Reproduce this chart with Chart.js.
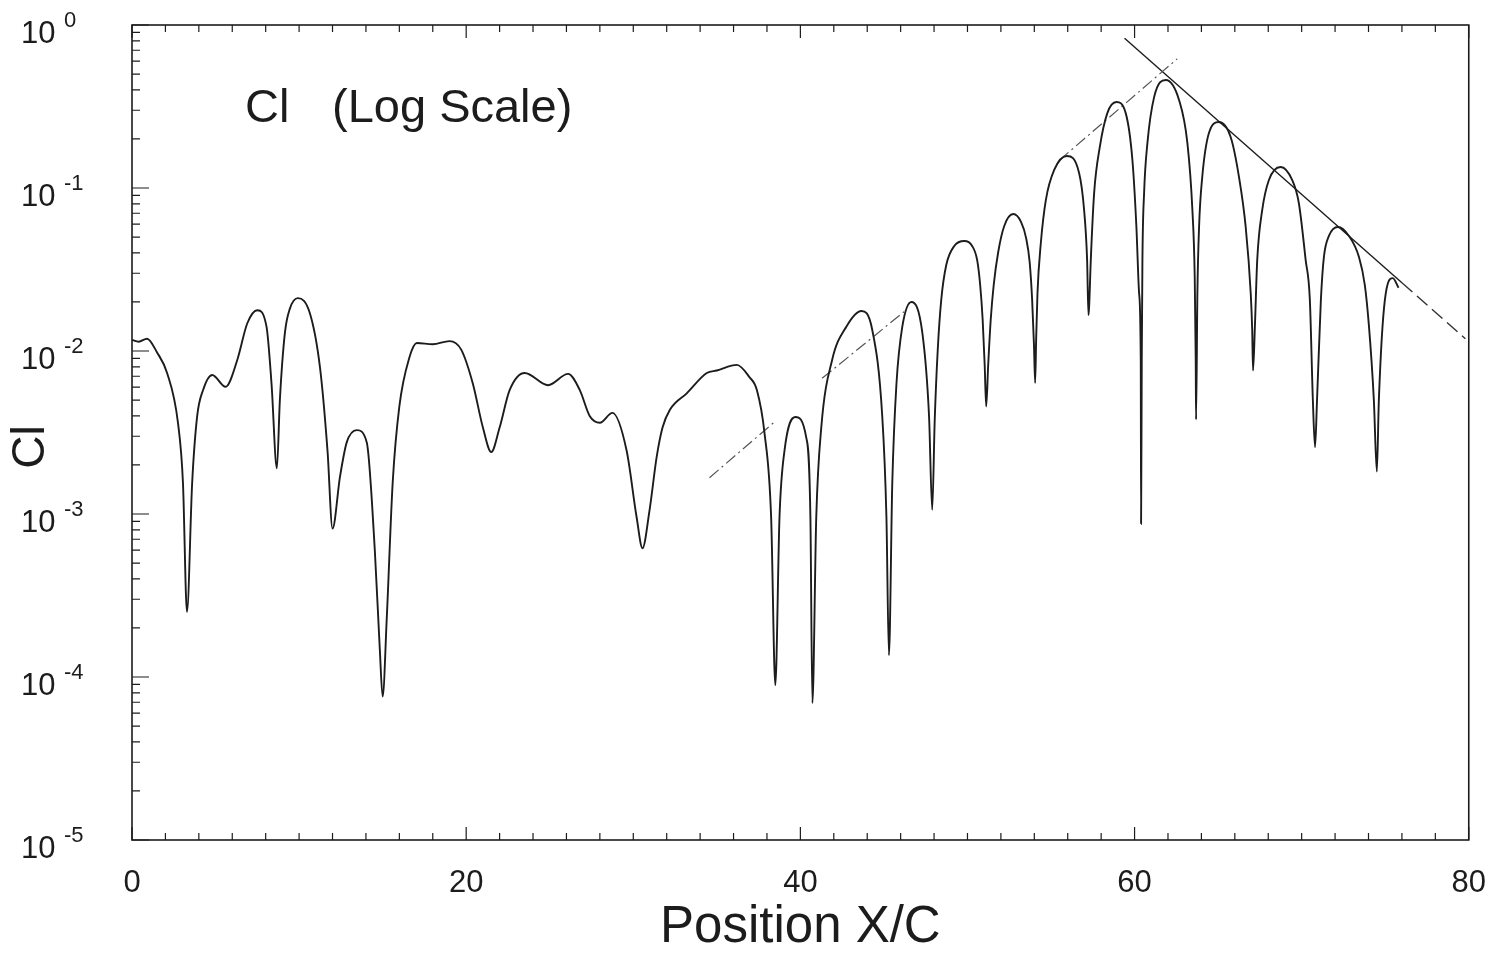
<!DOCTYPE html>
<html lang="en">
<head>
  <meta charset="UTF-8">
  <title>Cl (Log Scale) vs Position X/C</title>
  <script src="https://cdn.jsdelivr.net/npm/chart.js"></script>
  <style>
    body { margin: 0; background: #fff; }
    canvas { display: block; }
  </style>
</head>
<body>
  <canvas id="clChart" width="1511" height="956"></canvas>

  <script>
    // Cl along the chord
    const posX = [0, 0.4, 0.9, 1.5, 2.1, 2.75, 3.05, 3.29, 3.6, 3.9, 4.25, 4.8, 5.6, 6.3, 6.9, 7.5,
      8.05, 8.35, 8.67, 8.85, 9.15, 9.45, 9.93, 10.65, 11.25, 11.7, 12.0, 12.45, 12.85, 13.45, 14.05,
      14.53, 14.83, 15.0, 15.25, 15.6, 16.0, 16.6, 17.05, 18.0, 19.0, 19.7, 20.4, 21.0, 21.5, 22.0,
      22.6, 23.5, 24.9, 26.1, 26.8, 27.4, 28.0, 28.75, 29.6, 30.2, 30.55, 30.97, 31.4, 31.75, 32.2,
      33.2, 34.4, 35.0, 36.2, 36.95, 37.4, 37.85, 38.25, 38.5, 38.75, 39.05, 39.7, 40.35, 40.6, 40.72,
      40.95, 41.25, 41.9, 42.75, 43.65, 44.3, 44.9, 45.15, 45.3, 45.5, 45.75, 46.1, 46.65, 47.3, 47.7,
      47.89, 48.04, 48.22, 48.43, 48.73, 49.21, 49.81, 50.28, 50.58, 50.76, 50.91, 51.03, 51.12,
      51.24, 51.39, 51.57, 51.84, 52.2, 52.74, 53.21, 53.51, 53.72, 53.87, 53.98, 54.05,
      54.11, 54.19, 54.39, 54.69, 55.19, 55.95, 56.68, 56.98, 57.16, 57.24,
      57.28, 57.38, 57.58, 57.92, 58.37, 58.91, 59.47, 59.87, 60.11, 60.27, 60.37, 60.39,
      60.43, 60.47, 60.57, 60.77, 61.17, 61.87, 62.66, 63.16, 63.46, 63.6, 63.66, 63.68,
      63.76, 63.86, 64.05, 64.45, 65.05, 65.75, 66.25, 66.65, 66.95, 67.04, 67.09,
      67.2, 67.34, 67.64, 68.04, 68.74, 69.43, 69.83, 70.24, 70.49, 70.67, 70.8,
      70.92, 71.15, 71.33, 71.63, 72.17, 72.83, 73.43, 73.78, 74.02, 74.32, 74.5,
      74.62, 74.98, 75.45, 75.8];
    const clVals = [0.0117, 0.0114, 0.0119, 0.0098, 0.00733, 0.00363, 0.00155, 0.000251, 0.00155,
      0.00398, 0.00575, 0.00713, 0.00603, 0.00881, 0.0148, 0.0178,
      0.0141, 0.0063, 0.00191, 0.00501, 0.0129, 0.0182, 0.0211, 0.017, 0.00794, 0.00245, 0.000813,
      0.0017, 0.00275, 0.00327, 0.00275,
      0.000603, 0.000148, 0.0000759, 0.000234, 0.00155, 0.00457, 0.00912, 0.0112, 0.011, 0.0115,
      0.0102, 0.0063, 0.00339, 0.0024, 0.00339,
      0.00575, 0.00733, 0.00617, 0.00724, 0.00575, 0.00398, 0.00363, 0.00417, 0.00245, 0.000955,
      0.000617, 0.00105, 0.00224, 0.00339, 0.00437,
      0.0055, 0.00733, 0.00759, 0.00822, 0.00692, 0.00575, 0.00316, 0.000955, 0.0000891, 0.000955,
      0.00245, 0.00394, 0.00295, 0.000955, 0.0000692,
      0.000955, 0.00339, 0.00881, 0.0141, 0.0176, 0.0135, 0.00398, 0.000955, 0.000136, 0.00155,
      0.0063, 0.0141, 0.02, 0.0129, 0.00398,
      0.00106, 0.00377, 0.01014, 0.0206, 0.0337, 0.0441, 0.0473, 0.0441, 0.0361, 0.0254, 0.0155, 0.0082, 0.00457,
      0.0082, 0.0155, 0.0254, 0.0405, 0.0585, 0.0692, 0.0618, 0.0493, 0.0352, 0.0206, 0.0109, 0.00637,
      0.01175, 0.0227, 0.046, 0.0843, 0.129, 0.157, 0.1236, 0.0733, 0.0361, 0.0166,
      0.0186, 0.0361, 0.0931, 0.1786, 0.288, 0.337, 0.288, 0.1486, 0.0577, 0.0227, 0.00881, 0.00087,
      0.00881, 0.0361, 0.0931, 0.189, 0.361, 0.46, 0.347, 0.189, 0.0733, 0.0284, 0.00881, 0.0038,
      0.0227, 0.0577, 0.1167, 0.2173, 0.254, 0.2056, 0.1167, 0.0577, 0.0227, 0.01345, 0.00759,
      0.01403, 0.0361, 0.0733, 0.112, 0.1346, 0.112, 0.0809, 0.0361, 0.0206, 0.00501, 0.00257,
      0.00501, 0.0206, 0.0377, 0.0508, 0.0577, 0.0508, 0.0377, 0.0254, 0.0145, 0.00501, 0.00182,
      0.00501, 0.0206, 0.028, 0.0244];

    // dash-dot guide rising to the main peak (null = where the print faded out)
    const riseX = [34.56, 38.45, 39.5, 41.3, 46.2, 50.0, 55.5, 62.55];
    const riseY = [0.00167, 0.00367, null, 0.0068, 0.0174, null, 0.148, 0.62];

    // decay line from the main peak, dashed tail at the end
    const decayX = [59.4, 76.0];
    const decayY = [0.83, 0.0262];
    const tailX = [76.0, 79.8];
    const tailY = [0.0262, 0.0119];

    const xLabelled = [0, 20, 40, 60, 80];
    const yDecades = [1, 0.1, 0.01, 0.001, 0.0001, 0.00001];

    const FONT = '"Liberation Sans", Arial, Helvetica, sans-serif';
    const INK = '#1c1c1c';

    const toPoints = (xs, ys) => xs.map((x, i) => ({ x: x, y: ys[i] }));

    // frame, inward tick marks, 10^n labels, y title and the inset caption
    const frameAndTicks = {
      id: 'frameAndTicks',
      afterDraw(chart) {
        const { ctx, chartArea: a, scales: { x, y } } = chart;
        ctx.save();
        ctx.strokeStyle = INK;
        ctx.lineWidth = 1.6;
        ctx.strokeRect(a.left, a.top, a.right - a.left, a.bottom - a.top);

        ctx.lineWidth = 1.2;
        ctx.beginPath();
        for (let v = 0; v <= 80; v += 2) {
          const px = x.getPixelForValue(v);
          const len = xLabelled.includes(v) ? 13 : 7;
          ctx.moveTo(px, a.bottom); ctx.lineTo(px, a.bottom - len);
          ctx.moveTo(px, a.top); ctx.lineTo(px, a.top + len);
        }
        for (const d of yDecades) {
          for (let m = 1; m <= 9; m++) {
            const v = d * m;
            if (v > 1.0000001) break;
            const py = y.getPixelForValue(v);
            const len = m === 1 ? 17 : 8;
            ctx.moveTo(a.left, py); ctx.lineTo(a.left + len, py);
          }
        }
        ctx.stroke();

        ctx.fillStyle = INK;
        ctx.textAlign = 'left';
        ctx.textBaseline = 'middle';
        for (const d of yDecades) {
          const py = y.getPixelForValue(d);
          const e = Math.round(Math.log10(d));
          ctx.font = '31px ' + FONT;
          ctx.fillText('10', 21, py + 9);
          ctx.font = '22px ' + FONT;
          ctx.fillText(String(e), 64, py - 4);
        }

        // rotated y title
        ctx.save();
        ctx.translate(31, 447);
        ctx.rotate(-Math.PI / 2);
        ctx.textAlign = 'center';
        ctx.font = '46px ' + FONT;
        ctx.fillText('Cl', 0, 0);
        ctx.restore();

        ctx.font = '47px ' + FONT;
        ctx.textBaseline = 'alphabetic';
        ctx.fillText('Cl', 245, 122);
        ctx.fillText('(Log Scale)', 332, 122);
        ctx.restore();
      }
    };

    new Chart(document.getElementById('clChart').getContext('2d'), {
      type: 'line',
      data: {
        datasets: [
          {
            label: 'Cl',
            data: toPoints(posX, clVals),
            borderColor: INK,
            borderWidth: 1.9,
            pointRadius: 0,
            cubicInterpolationMode: 'monotone',
            fill: false
          },
          {
            label: 'rise',
            data: toPoints(riseX, riseY),
            borderColor: '#555',
            borderWidth: 1.2,
            borderDash: [12, 4, 2, 4],
            pointRadius: 0,
            spanGaps: false,
            fill: false
          },
          {
            label: 'decay',
            data: toPoints(decayX, decayY),
            borderColor: INK,
            borderWidth: 1.4,
            pointRadius: 0,
            fill: false
          },
          {
            label: 'decay tail',
            data: toPoints(tailX, tailY),
            borderColor: '#333',
            borderWidth: 1.4,
            borderDash: [14, 6],
            pointRadius: 0,
            fill: false
          }
        ]
      },
      options: {
        responsive: false,
        animation: false,
        events: [],
        layout: { padding: { top: 25, right: 41, left: 0, bottom: 0 } },
        plugins: {
          legend: { display: false },
          tooltip: { enabled: false }
        },
        scales: {
          x: {
            type: 'linear',
            min: 0,
            max: 80,
            grid: { display: false, drawTicks: false },
            border: { display: false },
            ticks: {
              stepSize: 20,
              padding: 25,
              maxRotation: 0,
              color: INK,
              font: { family: FONT, size: 31 },
              callback: v => xLabelled.includes(v) ? String(v) : ''
            },
            title: {
              display: true,
              text: 'Position X/C',
              color: INK,
              font: { family: FONT, size: 51, lineHeight: 1.1 },
              padding: { top: 0, bottom: 0 }
            },
            afterFit: s => { s.height = 116; }
          },
          y: {
            type: 'logarithmic',
            min: 0.00001,
            max: 1,
            grid: { display: false, drawTicks: false },
            border: { display: false },
            ticks: { display: false },
            title: { display: false },
            afterFit: s => { s.width = 132; }
          }
        }
      },
      plugins: [frameAndTicks]
    });
  </script>
</body>
</html>
